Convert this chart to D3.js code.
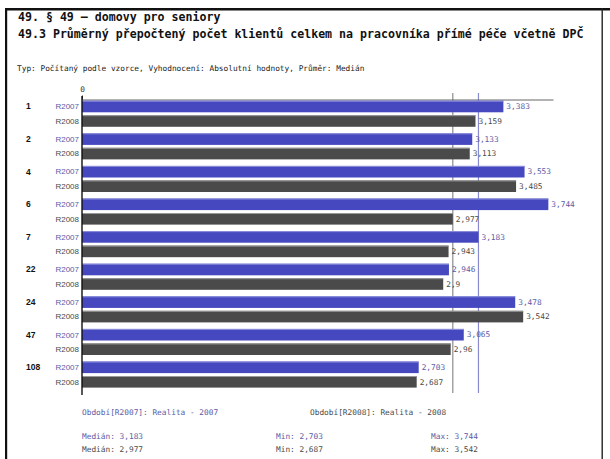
<!DOCTYPE html>
<meta charset="utf-8">
<head>
  <title>49.3 Průměrný přepočtený počet klientů</title>
</head>

<style>
  body { margin: 0; background: white; }
  text { font-family: "DejaVu Sans Mono", monospace; }
  .title { font-size: 11.6px; font-weight: bold; fill: #111; }
  .small { font-size: 7.8px; }
  .grp { font-family: "Liberation Sans", Arial, sans-serif; font-size: 8.5px; font-weight: bold; fill: #111; }
  .ser { font-family: "Liberation Sans", Arial, sans-serif; font-size: 8px; }
</style>

<body>
<script src="https://cdn.jsdelivr.net/npm/d3@7"></script>
<div id="chart"></div>
<script>

var groups = ["1", "2", "4", "6", "7", "22", "24", "47", "108"];
var series = ["R2007", "R2008"];
var r2007 = [3.383, 3.133, 3.553, 3.744, 3.183, 2.946, 3.478, 3.065, 2.703];
var r2008 = [3.159, 3.113, 3.485, 2.977, 2.943, 2.9, 3.542, 2.96, 2.687];
var legendLabels = ["Období[R2007]: Realita - 2007", "Období[R2008]: Realita - 2008"];

var fill = { R2007: "#4548be", R2008: "#4a4a4a" };
var edge = { R2007: "#8f91dc", R2008: "#9a9a9a" };
var textCol = { R2007: "#5a5aa6", R2008: "#4a4a4a" };
var lineCol = { R2007: "#8a8ad0", R2008: "#8c8c8c" };

var values = { R2007: r2007, R2008: r2008 };
var data = groups.map(function(g, i) {
  return { g: g, R2007: r2007[i], R2008: r2008[i] };
});

var fmt = function(v) { return String(+v.toFixed(3)).replace(".", ","); };

var svg = d3.select("#chart").append("svg")
  .attr("width", 610)
  .attr("height", 459);

// page frame
svg.append("rect").attr("x", 5).attr("y", 8).attr("width", 605).attr("height", 2.5).attr("fill", "#111");
svg.append("rect").attr("x", 5).attr("y", 8).attr("width", 2.2).attr("height", 460).attr("fill", "#111");
svg.append("rect").attr("x", 601.5).attr("y", 8).attr("width", 1.4).attr("height", 460).attr("fill", "#222");

svg.append("text").attr("class", "title").attr("x", 18).attr("y", 20.5)
  .text("49. § 49 – domovy pro seniory");
svg.append("text").attr("class", "title").attr("x", 18).attr("y", 38)
  .text("49.3 Průměrný přepočtený počet klientů celkem na pracovníka přímé péče včetně DPČ");
svg.append("text").attr("class", "small").attr("x", 17).attr("y", 71).attr("fill", "#222")
  .text("Typ: Počítaný podle vzorce, Vyhodnocení: Absolutní hodnoty, Průměr: Medián");

var maxAll = d3.max(r2007.concat(r2008));
var x = d3.scaleLinear().domain([0, maxAll * 1.01]).range([82, 553]);

var y = d3.scaleBand().domain(groups).range([100.7, 387.6]).paddingInner(0.2).paddingOuter(0).align(0);
var ys = d3.scaleBand().domain(series).range([0, y.bandwidth()]).paddingInner(0.2).paddingOuter(0);

// median lines (behind bars)
series.forEach(function(s) {
  var m = d3.median(values[s]);
  svg.append("line")
    .attr("x1", x(m)).attr("x2", x(m))
    .attr("y1", 93).attr("y2", 393)
    .attr("stroke", lineCol[s]).attr("stroke-width", 1.2);
});

// top axis
var axis = svg.append("g").attr("transform", "translate(0,99.5)")
  .call(d3.axisTop(x).tickValues([0]).tickFormat(d3.format("d")).tickSize(4).tickSizeOuter(0));
axis.select(".domain").attr("stroke", "#666");
axis.selectAll(".tick line").attr("stroke", "#333");
axis.selectAll(".tick text").attr("class", "small").attr("fill", "#333").attr("dy", "-0.1em")
  .style("font-family", "'DejaVu Sans Mono', monospace").style("font-size", "7.8px");

var gs = svg.selectAll(".group").data(data).enter().append("g")
  .attr("class", "group")
  .attr("transform", function(d) { return "translate(0," + y(d.g) + ")"; });

gs.append("text").attr("class", "grp")
  .attr("x", 26).attr("y", ys("R2007") + ys.bandwidth() / 2).attr("dy", "0.35em")
  .text(function(d) { return d.g; });

series.forEach(function(s) {
  var yy = ys(s), h = ys.bandwidth();
  gs.append("rect")
    .attr("x", x(0)).attr("y", yy)
    .attr("width", function(d) { return x(d[s]) - x(0); })
    .attr("height", h)
    .attr("fill", fill[s]);
  gs.append("rect")
    .attr("x", x(0)).attr("y", yy)
    .attr("width", function(d) { return x(d[s]) - x(0); })
    .attr("height", 1)
    .attr("fill", edge[s]);
  gs.append("text").attr("class", "ser")
    .attr("x", 79).attr("y", yy + h / 2).attr("dy", "0.35em")
    .attr("text-anchor", "end").attr("fill", textCol[s])
    .text(s);
  gs.append("text").attr("class", "small")
    .attr("x", function(d) { return x(d[s]) + 3; })
    .attr("y", yy + h / 2).attr("dy", "0.35em")
    .attr("fill", textCol[s])
    .text(function(d) { return fmt(d[s]); });
});

// left axis line
svg.append("line").attr("x1", 82).attr("x2", 82).attr("y1", 96).attr("y2", 395)
  .attr("stroke", "#111").attr("stroke-width", 1.4);

// legend and stats
svg.append("text").attr("class", "small").attr("x", 82).attr("y", 415).attr("fill", textCol.R2007).text(legendLabels[0]);
svg.append("text").attr("class", "small").attr("x", 310).attr("y", 415).attr("fill", textCol.R2008).text(legendLabels[1]);

series.forEach(function(s, i) {
  var yy = 438.5 + i * 13;
  var v = values[s];
  svg.append("text").attr("class", "small").attr("x", 82).attr("y", yy).attr("fill", textCol[s])
    .text("Medián: " + fmt(d3.median(v)));
  svg.append("text").attr("class", "small").attr("x", 276).attr("y", yy).attr("fill", textCol[s])
    .text("Min: " + fmt(d3.min(v)));
  svg.append("text").attr("class", "small").attr("x", 431).attr("y", yy).attr("fill", textCol[s])
    .text("Max: " + fmt(d3.max(v)));
});

</script>
</body>
</html>
